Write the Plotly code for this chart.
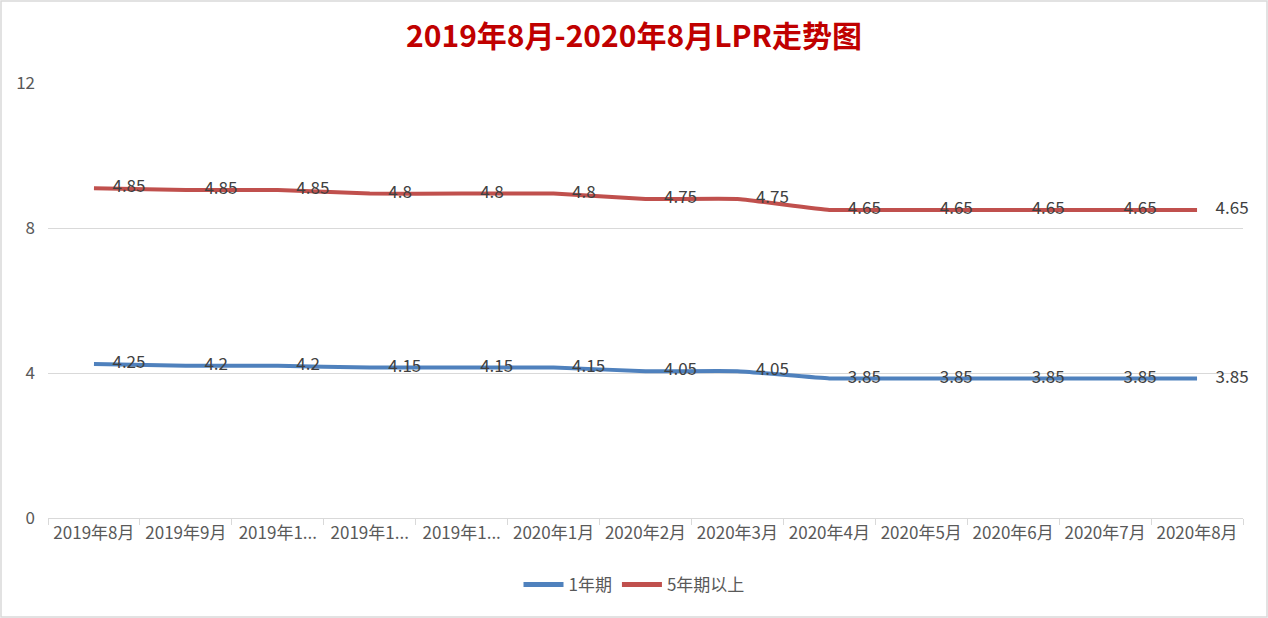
import plotly.graph_objects as go

categories = ["2019年8月", "2019年9月", "2019年10月", "2019年11月", "2019年12月",
              "2020年1月", "2020年2月", "2020年3月", "2020年4月", "2020年5月",
              "2020年6月", "2020年7月", "2020年8月"]
tick_labels = ["2019年8月", "2019年9月", "2019年1...", "2019年1...", "2019年1...",
               "2020年1月", "2020年2月", "2020年3月", "2020年4月", "2020年5月",
               "2020年6月", "2020年7月", "2020年8月"]
lpr_1y = [4.25, 4.2, 4.2, 4.15, 4.15, 4.15, 4.05, 4.05, 3.85, 3.85, 3.85, 3.85, 3.85]
lpr_5y = [4.85, 4.85, 4.85, 4.8, 4.8, 4.8, 4.75, 4.75, 4.65, 4.65, 4.65, 4.65, 4.65]

W, H = 1268, 618
L, R, T, B = 48, 25, 83, 100
pw, ph = W - L - R, H - T - B

FONT = "Noto Sans CJK SC, Open Sans, sans-serif"

fig = go.Figure()
for name, vals, color in [("1年期", lpr_1y, "#4F81BD"), ("5年期以上", lpr_5y, "#C0504D")]:
    fig.add_trace(go.Scatter(
        x=categories, y=vals, name=name, stackgroup="one", fill="none",
        mode="lines+markers+text",
        line=dict(color=color, width=4, shape="spline", smoothing=0.3),
        marker=dict(size=28, color="rgba(0,0,0,0)", line=dict(width=0)),
        text=[str(v) for v in vals], textposition="middle right",
        textfont=dict(family=FONT, size=17, color="#404040"),
        cliponaxis=False,
        hoverinfo="skip",
    ))

fig.update_layout(
    width=W, height=H,
    margin=dict(l=L, r=R, t=T, b=B),
    paper_bgcolor="white", plot_bgcolor="white",
    title=dict(text="<b>2019年8月-2020年8月LPR走势图</b>", x=0.5, xanchor="center",
               y=1 - 36 / H, yanchor="middle",
               font=dict(family=FONT, size=30, color="#C00000")),
    xaxis=dict(type="category", range=[-0.5, 12.5], tickvals=categories, ticktext=tick_labels,
               tickson="boundaries", ticks="outside", ticklen=6, tickcolor="#D9D9D9",
               showline=True, linecolor="#D9D9D9", linewidth=1, showgrid=False,
               tickfont=dict(family=FONT, size=17, color="#595959")),
    yaxis=dict(range=[0, 12], tickvals=[0, 4, 8, 12], showgrid=True, gridcolor="#D9D9D9",
               gridwidth=1, zeroline=False, showline=False, ticks="", ticklabelstandoff=12,
               tickfont=dict(family=FONT, size=17, color="#595959")),
    legend=dict(orientation="h", x=(634 - L) / pw, xanchor="center", y=-(585 - 518) / ph,
                yanchor="middle", itemsizing="constant",
                font=dict(family=FONT, size=17, color="#595959"), itemwidth=40),
    showlegend=True,
    shapes=[dict(type="rect", xref="paper", yref="paper",
                 x0=-(L - 1) / pw, x1=1 + (R - 1) / pw, y0=-(B - 1) / ph, y1=1 + (T - 1) / ph,
                 line=dict(color="#D9D9D9", width=1.5), layer="below")],
)

fig.write_html("out.html")
